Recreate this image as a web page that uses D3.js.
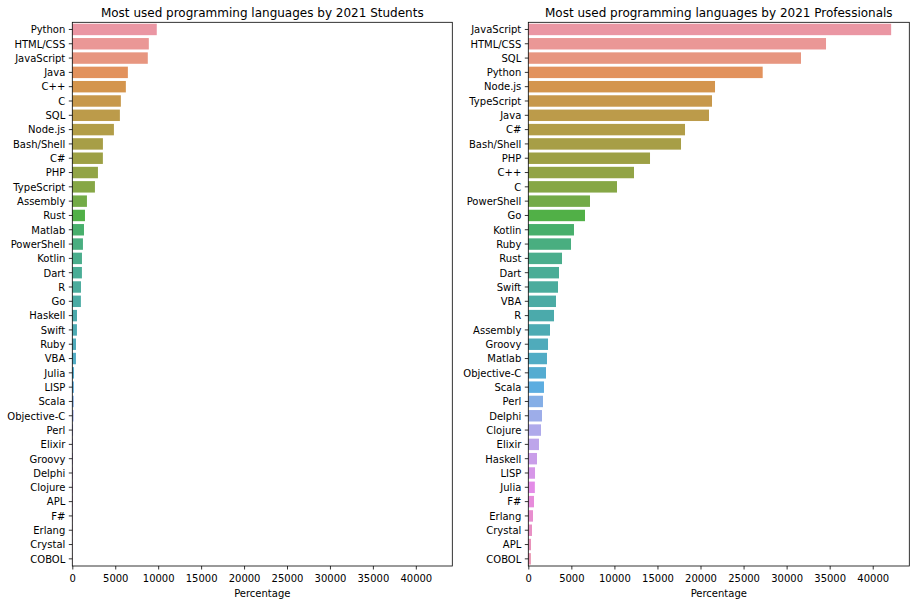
<!DOCTYPE html>
<html>
<head>
<meta charset="utf-8">
<script src="https://cdn.jsdelivr.net/npm/d3@7"></script>
<style>
body { margin: 0; background: #fff; }
svg { display: block; }
text { font-family: "DejaVu Sans", sans-serif; }
</style>
</head>
<body>
<svg id="chart" width="916" height="604"></svg>
<script>
// ---------------- data ----------------
const studentLanguages = ["Python","HTML/CSS","JavaScript","Java","C++","C","SQL","Node.js","Bash/Shell","C#","PHP","TypeScript","Assembly","Rust","Matlab","PowerShell","Kotlin","Dart","R","Go","Haskell","Swift","Ruby","VBA","Julia","LISP","Scala","Objective-C","Perl","Elixir","Groovy","Delphi","Clojure","APL","F#","Erlang","Crystal","COBOL"];
const studentValues = [9835,8910,8790,6470,6235,5655,5540,4845,3565,3560,2985,2635,1705,1475,1360,1240,1125,1120,1010,1000,545,540,430,425,200,180,170,150,90,80,70,60,50,40,35,30,25,20];

const proLanguages = ["JavaScript","HTML/CSS","SQL","Python","Node.js","TypeScript","Java","C#","Bash/Shell","PHP","C++","C","PowerShell","Go","Kotlin","Ruby","Rust","Dart","Swift","VBA","R","Assembly","Groovy","Matlab","Objective-C","Scala","Perl","Delphi","Clojure","Elixir","Haskell","LISP","Julia","F#","Erlang","Crystal","APL","COBOL"];
const proValues = [42140,34575,31670,27220,21685,21335,20985,18200,17735,14135,12275,10300,7165,6585,5305,4960,3915,3565,3450,3215,2985,2520,2290,2170,2055,1820,1705,1590,1475,1240,1010,780,760,660,545,430,315,300];

const xTicks = [0,5000,10000,15000,20000,25000,30000,35000,40000];
const titles = ["Most used programming languages by 2021 Students","Most used programming languages by 2021 Professionals"];
const xLabel = "Percentage";

// ---------------- husl palette (seaborn style) ----------------
const M = [[3.2406,-1.5372,-0.4986],[-0.9689,1.8758,0.0415],[0.0557,-0.2040,1.0570]];
const refU = 0.19784, refV = 0.46834;
function maxChroma(L, H) {
  const hr = H * Math.PI / 180, sinH = Math.sin(hr), cosH = Math.cos(hr);
  const sub1 = Math.pow(L + 16, 3) / 1560896.0;
  const sub2 = sub1 > 0.008856 ? sub1 : L / 903.3;
  let result = Infinity;
  for (const [m1, m2, m3] of M) {
    const tp = (0.99915*m1 + 1.05122*m2 + 1.14460*m3) * sub2;
    const rb = 0.86330*m3 - 0.17266*m2;
    const lb = 0.12949*m3 - 0.38848*m1;
    const bt = (rb*sinH + lb*cosH) * sub2;
    for (const t of [0, 1]) {
      const C = L * (tp - 1.05122*t) / (bt + 0.17266*sinH*t);
      if (C > 0 && C < result) result = C;
    }
  }
  return result;
}
function fromLinear(c) { return c <= 0.0031308 ? 12.92*c : 1.055*Math.pow(c, 1/2.4) - 0.055; }
function huslToRgb(H, S, L) {
  const C = maxChroma(L, H) / 100 * S;
  const hr = H * Math.PI / 180;
  const U = Math.cos(hr)*C, V = Math.sin(hr)*C;
  const t = (L + 16) / 116;
  const varY = Math.pow(t,3) > 0.008856 ? Math.pow(t,3) : (116*t - 16) / 903.3;
  const varU = U / (13*L) + refU, varV = V / (13*L) + refV;
  const Y = varY;
  const X = -(9*Y*varU) / ((varU - 4)*varV - varU*varV);
  const Z = (9*Y - 15*varV*Y - varV*X) / (3*varV);
  return M.map(r => Math.min(1, Math.max(0, fromLinear(r[0]*X + r[1]*Y + r[2]*Z))));
}
function desaturate(rgb, prop) {
  const c = d3.hsl(d3.rgb(rgb[0]*255, rgb[1]*255, rgb[2]*255));
  c.s *= prop;
  return c.formatHex();
}
function huslPalette(n) {
  const out = [];
  for (let i = 0; i < n; i++) {
    const h = (i / n + 0.01) % 1;
    out.push(desaturate(huslToRgb(h*359, 0.9*99, 0.7*99), 0.75));
  }
  return out;
}

// ---------------- layout ----------------
const svg = d3.select("#chart");
const plotTop = 22.3, plotBottom = 566;
const panels = [
  { left: 72.3, right: 452.3, cats: studentLanguages, vals: studentValues, title: titles[0] },
  { left: 528.3, right: 909.3, cats: proLanguages, vals: proValues, title: titles[1] }
];
const xMax = d3.max(studentValues.concat(proValues)) * 1.05;

panels.forEach(p => {
  const g = svg.append("g");
  const x = d3.scaleLinear().domain([0, xMax]).range([p.left, p.right]);
  const y = d3.scaleBand().domain(p.cats).range([plotTop, plotBottom]).paddingInner(0.2).paddingOuter(0.1);
  const colors = huslPalette(p.cats.length);

  g.selectAll("rect.bar").data(p.cats).enter().append("rect")
    .attr("class", "bar")
    .attr("x", x(0))
    .attr("y", d => y(d))
    .attr("width", (d, i) => x(p.vals[i]) - x(0))
    .attr("height", y.bandwidth())
    .attr("fill", (d, i) => colors[i]);

  const xa = g.append("g").attr("transform", `translate(0,${plotBottom})`)
    .call(d3.axisBottom(x).tickValues(xTicks).tickFormat(d3.format("d")).tickSizeOuter(0).tickSize(3.5).tickPadding(3.5));
  xa.select(".domain").remove();
  xa.selectAll("line").attr("stroke", "#000").attr("stroke-width", 0.8);
  xa.selectAll("text").attr("font-size", 10).attr("fill", "#000").attr("dy", "0.87em")
    .attr("font-family", "DejaVu Sans, sans-serif");

  const ya = g.append("g").attr("transform", `translate(${p.left},0)`)
    .call(d3.axisLeft(y).tickSizeOuter(0).tickSize(3.5).tickPadding(3.5));
  ya.select(".domain").remove();
  ya.selectAll("line").attr("stroke", "#000").attr("stroke-width", 0.8);
  ya.selectAll("text").attr("font-size", 10).attr("fill", "#000").attr("dy", "0.38em")
    .attr("font-family", "DejaVu Sans, sans-serif");

  g.append("rect").attr("x", p.left).attr("y", plotTop)
    .attr("width", p.right - p.left).attr("height", plotBottom - plotTop)
    .attr("fill", "none").attr("stroke", "#000").attr("stroke-width", 0.8);

  g.append("text").attr("x", (p.left + p.right) / 2).attr("y", 16.7)
    .attr("text-anchor", "middle").attr("font-size", 12).attr("fill", "#000").text(p.title);

  g.append("text").attr("x", (p.left + p.right) / 2).attr("y", 597.3)
    .attr("text-anchor", "middle").attr("font-size", 10).attr("fill", "#000").text(xLabel);
});
</script>
</body>
</html>
